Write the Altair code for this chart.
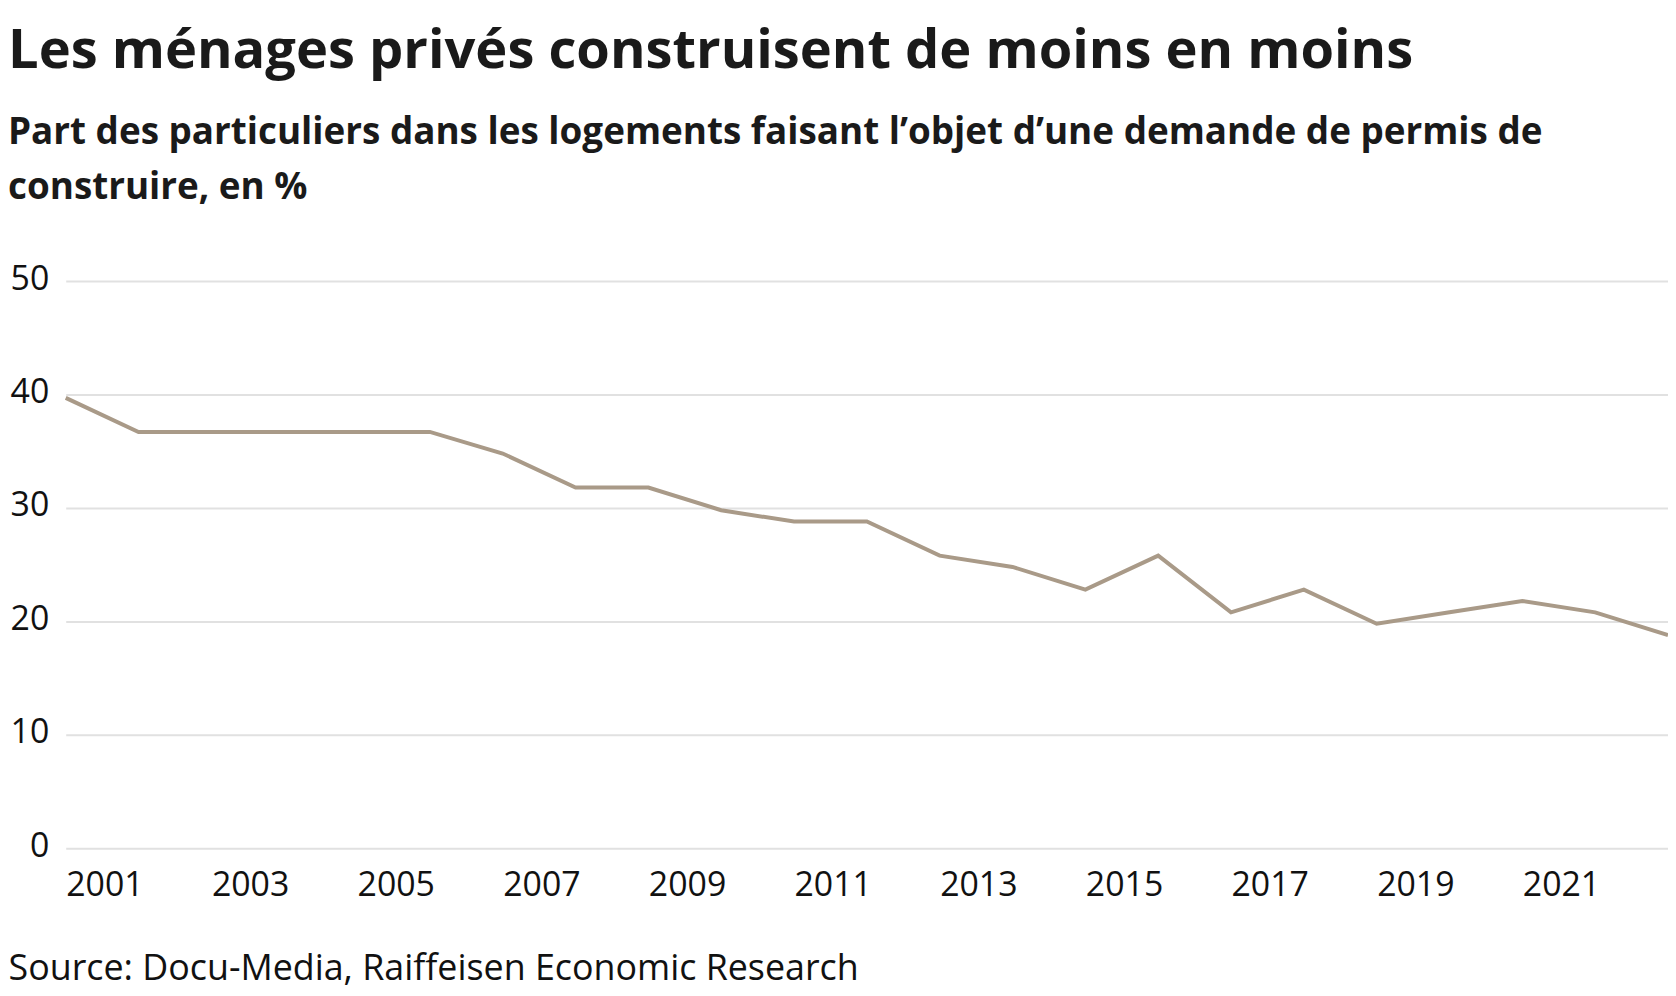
import altair as alt
import pandas as pd

years = list(range(2001, 2024))
share = [39.7, 36.7, 36.7, 36.7, 36.7, 36.7, 34.8, 31.8, 31.8, 29.8, 28.8, 28.8,
         25.8, 24.8, 22.8, 25.8, 20.8, 22.8, 19.8, 20.8, 21.8, 20.8, 18.8]
x_ticks = list(range(2001, 2022, 2))
y_ticks = [0, 10, 20, 30, 40, 50]

title_text = "Les ménages privés construisent de moins en moins"
subtitle_lines = [
    "Part des particuliers dans les logements faisant l’objet d’une demande de permis de",
    "construire, en %",
]
source_text = "Source: Docu-Media, Raiffeisen Economic Research"

df = pd.DataFrame({"year": years, "share": share})

FONT = "Open Sans"

chart = alt.Chart(df).mark_line(color="#a99a88", strokeWidth=4).encode(
    x=alt.X(
        "year:Q",
        scale=alt.Scale(domain=[2001, 2023], nice=False, zero=False),
        axis=alt.Axis(
            values=x_ticks, format="d", grid=False, domain=False, ticks=False, tickSize=0,
            labelAlign="left", labelBaseline="top", labelPadding=20, labelFlush=False,
            labelOverlap=False, labelFont=FONT, labelFontSize=34, labelColor="#111111",
            title=source_text, titleFont=FONT, titleFontSize=36, titleFontWeight="normal",
            titleColor="#111111", titleAnchor="start", titleAlign="left",
            titleBaseline="alphabetic", titleX=-58, titleY=132,
        ),
    ),
    y=alt.Y(
        "share:Q",
        scale=alt.Scale(domain=[0, 50], nice=False),
        axis=alt.Axis(
            values=y_ticks, grid=True, gridColor="#e1e1e1", gridWidth=2, domain=False,
            ticks=False, tickSize=0, labelPadding=17, labelFont=FONT, labelFontSize=34,
            labelColor="#111111", labelBaseline="middle", labelOffset=-2, title=None,
        ),
    ),
).properties(
    width=1610,
    height=570,
    autosize=alt.AutoSizeParams(type="none"),
    padding={"left": 58, "top": 272, "right": 0, "bottom": 140},
    title=alt.TitleParams(
        text=title_text,
        subtitle=subtitle_lines,
        anchor="start",
        frame="group",
        dx=-58,
        font=FONT,
        fontSize=54.5,
        fontWeight="bold",
        color="#1a1a1a",
        subtitleFont=FONT,
        subtitleFontSize=37,
        subtitleFontWeight="bold",
        subtitleColor="#1a1a1a",
        subtitleLineHeight=56,
        subtitlePadding=36,
        offset=55,
    ),
).configure_view(stroke=None)

chart.save("out.html", embed_options={"renderer": "svg", "actions": False})
